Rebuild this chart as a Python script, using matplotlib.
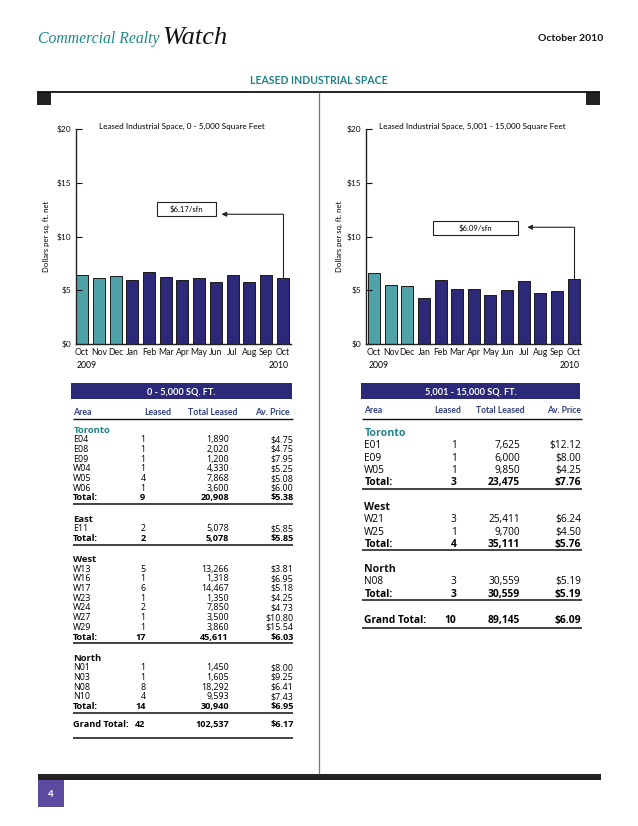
import matplotlib
matplotlib.use("Agg")
import matplotlib.pyplot as plt
from matplotlib.patches import Rectangle
from matplotlib.lines import Line2D

# ---------------- data ----------------
months = ["Oct", "Nov", "Dec", "Jan", "Feb", "Mar", "Apr", "May", "Jun", "Jul", "Aug", "Sep", "Oct"]
small_prices = [6.44, 6.16, 6.32, 5.98, 6.69, 6.22, 5.98, 6.13, 5.79, 6.44, 5.79, 6.44, 6.17]
mid_prices = [6.59, 5.51, 5.39, 4.27, 5.98, 5.11, 5.11, 4.58, 5.02, 5.85, 4.77, 4.95, 6.09]
n_2009 = 3
y_ticks = [0, 5, 10, 15, 20]
small_title = "Leased Industrial Space, 0 - 5,000 Square Feet"
mid_title = "Leased Industrial Space, 5,001 - 15,000 Square Feet"
small_label = "$6.17/sfn"
mid_label = "$6.09/sfn"

t1_title = "0 - 5,000 SQ. FT."
t1_sections = ["Toronto", "East", "West", "North"]
t1_areas = [["E04", "E08", "E09", "W04", "W05", "W06"], ["E11"],
            ["W13", "W16", "W17", "W23", "W24", "W27", "W29"], ["N01", "N03", "N08", "N10"]]
t1_leased = [[1, 1, 1, 1, 4, 1], [2], [5, 1, 6, 1, 2, 1, 1], [1, 1, 8, 4]]
t1_total = [[1890, 2020, 1200, 4330, 7868, 3600], [5078],
            [13266, 1318, 14467, 1350, 7850, 3500, 3860], [1450, 1605, 18292, 9593]]
t1_price = [[4.75, 4.75, 7.95, 5.25, 5.08, 6.00], [5.85],
            [3.81, 6.95, 5.18, 4.25, 4.73, 10.80, 15.54], [8.00, 9.25, 6.41, 7.43]]
t1_sec_leased = [9, 2, 17, 14]
t1_sec_total = [20908, 5078, 45611, 30940]
t1_sec_price = [5.38, 5.85, 6.03, 6.95]
t1_grand = [42, 102537, 6.17]

t2_title = "5,001 - 15,000 SQ. FT."
t2_sections = ["Toronto", "West", "North"]
t2_areas = [["E01", "E09", "W05"], ["W21", "W25"], ["N08"]]
t2_leased = [[1, 1, 1], [3, 1], [3]]
t2_total = [[7625, 6000, 9850], [25411, 9700], [30559]]
t2_price = [[12.12, 8.00, 4.25], [6.24, 4.50], [5.19]]
t2_sec_leased = [3, 4, 3]
t2_sec_total = [23475, 35111, 30559]
t2_sec_price = [7.76, 5.76, 5.19]
t2_grand = [10, 89145, 6.09]

col_heads = ["Area", "Leased", "Total Leased", "Av. Price"]

# ---------------- style ----------------
W, H = 638, 826
TEAL_BAR = "#4fa3a8"
NAVY = "#2c2979"
TEAL_TXT = "#1f8089"
HEAD_TXT = "#2f3f80"
FONT = "Lato"
TFONT = ["Open Sans", "DejaVu Sans"]
plt.rcParams["font.family"] = [FONT, "DejaVu Sans"]

fig = plt.figure(figsize=(W / 100, H / 100), dpi=100)
fig.patch.set_facecolor("white")


def fx(x):
    return x / W


def fy(y):
    return 1 - y / H


def ftext(x, y, s, **kw):
    """Place text so that the middle of its capital letters sits at pixel row y."""
    fs = kw.get("fontsize", 10)
    if kw.get("rotation", 0) == 0 and "va" not in kw:
        kw["va"] = "baseline"
        y = y + 0.36 * fs * 100 / 72
    kw.setdefault("va", "center")
    fig.text(fx(x), fy(y), s, **kw)


def hline(x0, x1, y, lw=1.0, color="#111111"):
    fig.add_artist(Line2D([fx(x0), fx(x1)], [fy(y), fy(y)], transform=fig.transFigure,
                          lw=lw, color=color, solid_capstyle="butt"))


def vline(x, y0, y1, lw=1.0, color="#111111"):
    fig.add_artist(Line2D([fx(x), fx(x)], [fy(y0), fy(y1)], transform=fig.transFigure,
                          lw=lw, color=color, solid_capstyle="butt"))


def rect(x0, y0, x1, y1, color):
    fig.add_artist(Rectangle((fx(x0), fy(y1)), fx(x1) - fx(x0), (y1 - y0) / H,
                             transform=fig.transFigure, facecolor=color, edgecolor="none"))


# ---------------- page header ----------------
ftext(38, 37, "Commercial Realty", family="Liberation Serif", style="italic",
      fontsize=11.3, color="#1a8a8c", ha="left")
ftext(162, 35, "Watch", family="Liberation Serif", style="italic",
      fontsize=19, color="#111111", ha="left")
ftext(603, 37, "October 2010", fontsize=7.5, fontweight="bold", ha="right", color="#111111")
ftext(319, 80, "LEASED INDUSTRIAL SPACE", fontsize=7.6, fontweight="bold", ha="center",
      color=TEAL_TXT)
hline(37, 600, 91.5, lw=1.3)
rect(37.3, 91.5, 51.3, 105, "#222222")
rect(585.7, 91.5, 600, 105, "#222222")
vline(318.5, 92, 774, lw=0.9, color="#777777")
rect(38, 773.5, 601, 779.5, "#222222")
rect(38.3, 779.5, 64, 806.5, "#5b4aa0")
ftext(51.2, 793.5, "4", fontsize=7, fontweight="bold", color="white", ha="center")


# ---------------- charts ----------------
def draw_chart(left, right, xmin, xmax, values, title, title_x, ylab_x, label,
               box_x, box_y, line_y, tip_x):
    ax = fig.add_axes([fx(left), fy(344), fx(right) - fx(left), (344 - 129) / H])
    x = list(range(len(values)))
    colors = [TEAL_BAR] * n_2009 + [NAVY] * (len(values) - n_2009)
    ax.bar(x, values, width=0.72, color=colors, edgecolor="#1a1a1a", linewidth=0.7)
    ax.set_xlim(xmin, xmax)
    ax.set_ylim(0, 20)
    ax.set_yticks(y_ticks)
    ax.set_yticklabels([f"${v}" for v in y_ticks])
    ax.tick_params(axis="y", direction="in", length=4, width=0.8, labelsize=6, pad=3,
                   colors="#111111")
    ax.set_xticks(x)
    ax.set_xticklabels(months, fontsize=6.2)
    ax.tick_params(axis="x", length=0, pad=3, colors="#111111")
    for s in ("top", "right"):
        ax.spines[s].set_visible(False)
    for s in ("left", "bottom"):
        ax.spines[s].set_linewidth(1.0)
        ax.spines[s].set_color("#222222")
    trans = ax.get_xaxis_transform()
    ax.text(x[0] - 0.36, -0.102, "2009", transform=trans, fontsize=6.2, ha="left", va="center")
    ax.text(x[-1] + 0.36, -0.102, "2010", transform=trans, fontsize=6.2, ha="right", va="center")
    # annotation
    ax.add_patch(Rectangle((box_x[0], box_y[0]), box_x[1] - box_x[0], box_y[1] - box_y[0],
                           facecolor="white", edgecolor="#222222", lw=0.8))
    ax.text((box_x[0] + box_x[1]) / 2, (box_y[0] + box_y[1]) / 2, label, fontsize=5.6,
            ha="center", va="center")
    ax.plot([x[-1], x[-1]], [values[-1], line_y], color="#222222", lw=0.8)
    ax.annotate("", xy=(tip_x, line_y), xytext=(x[-1], line_y),
                arrowprops=dict(arrowstyle="-|>", color="#222222", lw=0.8,
                                shrinkA=0, shrinkB=0, mutation_scale=7))
    ftext(title_x, 126, title, fontsize=5.9, ha="center")
    ftext(ylab_x, 236, "Dollars per sq. ft. net", fontsize=5.6, rotation=90, ha="center")
    return ax


draw_chart(75.5, 291, -0.4, 12.5, small_prices, small_title, 182, 47, small_label,
           (4.5, 8.0), (11.95, 13.2), 12.07, 8.34)
draw_chart(365.5, 581, -0.52, 12.45, mid_prices, mid_title, 472, 339, mid_label,
           (3.56, 8.63), (10.14, 11.44), 10.86, 9.22)


# ---------------- tables ----------------
def money(v):
    return f"${v:.2f}"


def ttext(x, y, s, **kw):
    kw.setdefault("family", TFONT)
    ftext(x, y, s, **kw)


def draw_table(cfg, title, sections, areas, leased, total, price, s_leased, s_total, s_price,
               grand):
    L, R = cfg["band"]
    rect(L, 383.3, R, 399.3, NAVY)
    ftext((L + R) / 2, 391.3, title, fontsize=6.6, fontweight="bold", color="white",
          ha="center")
    xa, xl, xt, xp = cfg["cols"]
    hy = cfg["head_y"]
    fs, fsb, fsh = cfg["fs"], cfg["fsb"], cfg["fsh"]
    ftext(xa, hy, col_heads[0], fontsize=fsh, fontweight="bold", color=HEAD_TXT, ha="left")
    ftext(cfg["head_c"][0], hy, col_heads[1], fontsize=fsh, fontweight="bold", color=HEAD_TXT,
          ha="center")
    ftext(cfg["head_c"][1], hy, col_heads[2], fontsize=fsh, fontweight="bold", color=HEAD_TXT,
          ha="center")
    ftext(cfg["head_c"][2], hy, col_heads[3], fontsize=fsh, fontweight="bold", color=HEAD_TXT,
          ha="right")
    hline(cfg["line_x"][0], cfg["line_x"][1], cfg["head_line"], lw=1.0)
    y = cfg["first"]
    step = cfg["step"]
    for i, sec in enumerate(sections):
        ttext(xa, y, sec, fontsize=fsb + 0.2, fontweight="bold",
              color=TEAL_TXT if i == 0 else "#111111", ha="left")
        y += step
        for a, n, t, p in zip(areas[i], leased[i], total[i], price[i]):
            ttext(xa, y, a, fontsize=fs, ha="left")
            ttext(xl, y, f"{n}", fontsize=fs, ha="right")
            ttext(xt, y, f"{t:,}", fontsize=fs, ha="right")
            ttext(xp, y, money(p), fontsize=fs, ha="right")
            y += step
        ttext(xa, y, "Total:", fontsize=fsb, fontweight="bold", ha="left")
        ttext(xl, y, f"{s_leased[i]}", fontsize=fsb, fontweight="bold", ha="right")
        ttext(xt, y, f"{s_total[i]:,}", fontsize=fsb, fontweight="bold", ha="right")
        ttext(xp, y, money(s_price[i]), fontsize=fsb, fontweight="bold", ha="right")
        ly = y + cfg["line_gap"]
        hline(cfg["line_x"][0], cfg["line_x"][1], ly, lw=1.1)
        y = ly + cfg["sec_gap"]
    gy = ly + cfg["grand_gap"]
    ttext(xa, gy, "Grand Total:", fontsize=fsb, fontweight="bold", ha="left")
    ttext(xl, gy, f"{grand[0]}", fontsize=fsb, fontweight="bold", ha="right")
    ttext(xt, gy, f"{grand[1]:,}", fontsize=fsb, fontweight="bold", ha="right")
    ttext(xp, gy, money(grand[2]), fontsize=fsb, fontweight="bold", ha="right")
    hline(cfg["line_x"][0], cfg["line_x"][1], gy + cfg["grand_line"], lw=1.1)


cfg1 = dict(band=(71, 292.3), cols=(73.3, 145.5, 229, 293.5), head_c=(157.7, 212.3, 289.3),
            head_y=411.7, head_line=419.3, line_x=(73, 292.5), first=429.3, step=9.7,
            line_gap=7, sec_gap=14, grand_gap=11, grand_line=14.3, fs=6.4, fsb=6.6, fsh=6.3)
cfg2 = dict(band=(361, 580.3), cols=(364.3, 456.5, 520, 581), head_c=(447.7, 500, 581),
            head_y=410, head_line=418.7, line_x=(362, 581.5), first=432.3, step=12.3,
            line_gap=7, sec_gap=18, grand_gap=19.8, grand_line=8.7, fs=7.3, fsb=7.4, fsh=6.2)

draw_table(cfg1, t1_title, t1_sections, t1_areas, t1_leased, t1_total, t1_price,
           t1_sec_leased, t1_sec_total, t1_sec_price, t1_grand)
draw_table(cfg2, t2_title, t2_sections, t2_areas, t2_leased, t2_total, t2_price,
           t2_sec_leased, t2_sec_total, t2_sec_price, t2_grand)

fig.savefig("out.png", dpi=100, facecolor="white")
